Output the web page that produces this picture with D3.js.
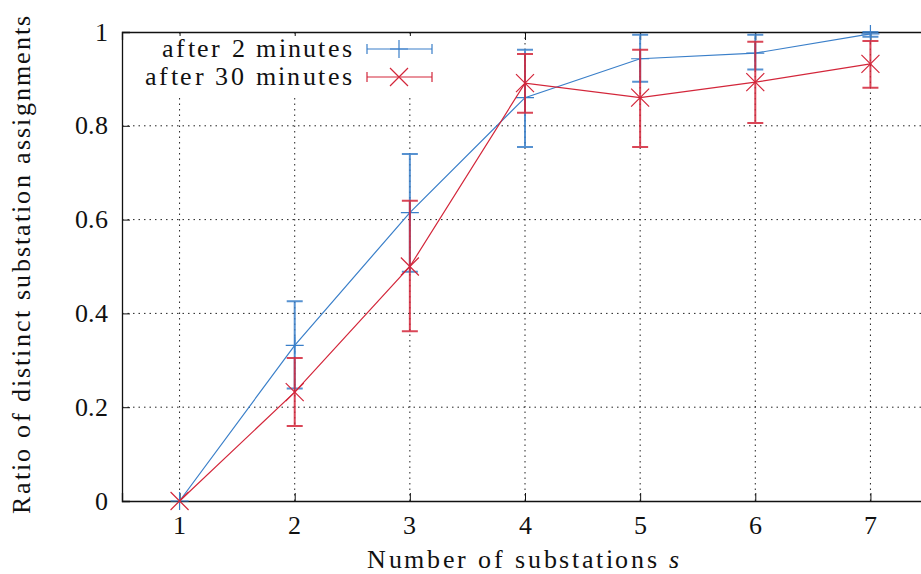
<!DOCTYPE html>
<html>
<head>
<meta charset="utf-8">
<script src="https://cdn.jsdelivr.net/npm/d3@7"></script>
<style>
  @font-face {
    font-family: "ChartSerif";
    src: local("Liberation Serif"), local("LiberationSerif"), local("LiberationSerif-Regular"), local("Times New Roman");
    font-style: normal;
  }
  @font-face {
    font-family: "ChartSerif";
    src: local("Liberation Serif Italic"), local("LiberationSerif-Italic");
    font-style: italic;
  }
  body { margin: 0; background: #fff; }
  svg text { font-family: "ChartSerif", "Liberation Serif", serif; }
</style>
</head>
<body>
<div id="chart"></div>
<script>
// Data
const substations = [1, 2, 3, 4, 5, 6, 7];
const after2 = [0, 0.332, 0.615, 0.86, 0.943, 0.955, 0.996];
const after2Lo = [0, 0.240, 0.489, 0.755, 0.894, 0.92, 0.99];
const after2Hi = [0, 0.426, 0.740, 0.962, 0.994, 0.994, 1.0];
const after30 = [0, 0.232, 0.5, 0.891, 0.86, 0.893, 0.932];
const after30Lo = [0, 0.16, 0.362, 0.828, 0.755, 0.806, 0.881];
const after30Hi = [0, 0.305, 0.64, 0.953, 0.962, 0.979, 0.981];
const yTicks = [0, 0.2, 0.4, 0.6, 0.8, 1];
const yTickLabels = ["0", "0.2", "0.4", "0.6", "0.8", "1"];

const blue = "#3a7fc9", red = "#d3263a";
const FS = 26;

const W = 921, H = 574;
const margin = { top: 32, right: -7, bottom: 73, left: 122 },
    width = W - margin.left - margin.right,
    height = H - margin.top - margin.bottom;

const root = d3.select("#chart")
    .append("svg")
    .attr("width", W)
    .attr("height", H);
const svg = root.append("g")
    .attr("transform", `translate(${margin.left},${margin.top})`);

const x = d3.scaleLinear().domain([0.5, 7.5]).range([0, width]);
const y = d3.scaleLinear().domain([0, 1]).range([height, 0]);

// serif label helper
function label(sel) {
    return sel.attr("font-family", "ChartSerif, Liberation Serif, serif")
        .attr("font-size", FS)
        .attr("fill", "#111");
}

// Grid
svg.append("g").selectAll("line")
    .data(yTicks.filter(d => d > 0 && d < 1))
    .enter().append("line")
    .attr("x1", 0).attr("x2", width)
    .attr("y1", d => y(d)).attr("y2", d => y(d))
    .attr("stroke", "#222").attr("stroke-width", 1)
    .attr("stroke-dasharray", "1.5,4");
svg.append("g").selectAll("line")
    .data(substations)
    .enter().append("line")
    .attr("x1", d => x(d)).attr("x2", d => x(d))
    .attr("y1", 0).attr("y2", height)
    .attr("stroke", "#222").attr("stroke-width", 1)
    .attr("stroke-dasharray", "1.5,4");

// Axes (ticks inward, mirrored at the top); tick labels drawn as plain texts
svg.append("g")
    .attr("transform", `translate(0,${height})`)
    .call(d3.axisBottom(x).tickValues(substations).tickSize(-8).tickFormat(""));
svg.append("g")
    .call(d3.axisTop(x).tickValues(substations).tickSize(-8).tickFormat(""));
svg.append("g")
    .call(d3.axisLeft(y).tickValues(yTicks).tickSize(-8).tickFormat(""));
svg.selectAll(".domain").attr("stroke", "#111").attr("stroke-width", 1.3);
svg.selectAll(".tick line").attr("stroke", "#111");

svg.append("g").selectAll("text")
    .data(substations)
    .enter().append("text")
    .attr("x", d => x(d)).attr("y", height + 33)
    .attr("text-anchor", "middle")
    .call(label)
    .text(d => d);
svg.append("g").selectAll("text")
    .data(yTicks)
    .enter().append("text")
    .attr("x", -14).attr("y", d => y(d)).attr("dy", "0.33em")
    .attr("text-anchor", "end")
    .call(label)
    .text((d, i) => yTickLabels[i]);

// Series
const series = [
    { name: "after 2 minutes", len: 190, v: after2, lo: after2Lo, hi: after2Hi, color: blue, marker: "plus" },
    { name: "after 30 minutes", len: 207, v: after30, lo: after30Lo, hi: after30Hi, color: red, marker: "cross" }
];

function drawMarker(g, cx, cy, type, color) {
    const s = 9;
    const d = type === "plus"
        ? `M${cx - s},${cy}H${cx + s}M${cx},${cy - s}V${cy + s}`
        : `M${cx - s},${cy - s}L${cx + s},${cy + s}M${cx - s},${cy + s}L${cx + s},${cy - s}`;
    g.append("path").attr("d", d)
        .attr("stroke", color).attr("stroke-width", 1.2).attr("fill", "none");
}

series.forEach(s => {
    const g = svg.append("g");
    const pts = substations.map((d, i) => ({ x: d, v: s.v[i], lo: s.lo[i], hi: s.hi[i] }));
    // error bars
    pts.forEach(p => {
        if (p.hi - p.lo <= 0) return;
        const cx = x(p.x);
        g.append("path")
            .attr("d", `M${cx},${y(p.lo)}V${y(p.hi)}M${cx - 8},${y(p.lo)}H${cx + 8}M${cx - 8},${y(p.hi)}H${cx + 8}`)
            .attr("stroke", s.color).attr("stroke-width", 2).attr("fill", "none")
            .attr("opacity", 0.85);
    });
    g.append("path")
        .datum(pts)
        .attr("fill", "none")
        .attr("stroke", s.color)
        .attr("stroke-width", 1.2)
        .attr("d", d3.line().x(d => x(d.x)).y(d => y(d.v)));
    pts.forEach(p => drawMarker(g, x(p.x), y(p.v), s.marker, s.color));
});

// Legend with white background
const legend = svg.append("g");
legend.append("rect")
    .attr("x", 14).attr("y", 4).attr("width", 310).attr("height", 58)
    .attr("fill", "#fff");
series.forEach((s, i) => {
    const ly = 17 + i * 28;
    legend.append("text")
        .attr("x", 230).attr("y", ly).attr("dy", "0.32em")
        .attr("text-anchor", "end")
        .attr("textLength", s.len)
        .call(label)
        .text(s.name);
    const x0 = 245, x1 = 310, xm = 277;
    legend.append("path")
        .attr("d", `M${x0},${ly}H${x1}M${x0},${ly - 5}V${ly + 5}M${x1},${ly - 5}V${ly + 5}`)
        .attr("stroke", s.color).attr("stroke-width", 1.2).attr("fill", "none");
    drawMarker(legend, xm, ly, s.marker, s.color);
});

// Axis labels
const xl = svg.append("text")
    .attr("x", x(4) - 2).attr("y", height + 67)
    .attr("text-anchor", "middle")
    .attr("textLength", 312)
    .call(label);
xl.append("tspan").text("Number of substations ");
xl.append("tspan").attr("font-style", "italic").text("s");
svg.append("text")
    .attr("transform", `translate(${-92},${height / 2 - 2}) rotate(-90)`)
    .attr("text-anchor", "middle")
    .attr("textLength", 498)
    .call(label)
    .text("Ratio of distinct substation assignments");
</script>
</body>
</html>
